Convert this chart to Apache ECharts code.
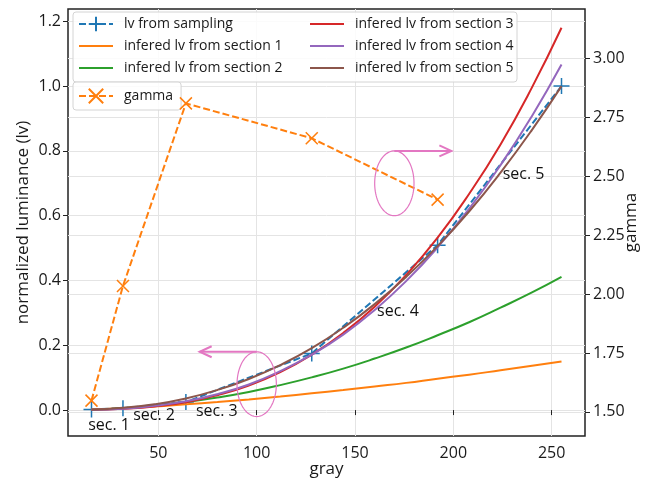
<!DOCTYPE html>
<html><head><meta charset="utf-8">
<script src="https://cdn.jsdelivr.net/npm/echarts@6/dist/echarts.min.js"></script>
<style>html,body{margin:0;padding:0;background:#fff}#c{width:653px;height:481px}</style>
</head><body><div id="c"></div>
<script>
// ---- data ----
const sampleGray = [16, 32, 64, 128, 192, 255];
const sampleLv   = [0.002, 0.006, 0.025, 0.175, 0.509, 1.000];

const curveGray = [16, 32, 48, 64, 80, 96, 112, 128, 144, 160, 176, 192, 208, 224, 240, 255];
const sec1Lv = [0.002, 0.006, 0.011, 0.018, 0.025, 0.033, 0.042, 0.052, 0.062, 0.073, 0.084, 0.097, 0.109, 0.123, 0.137, 0.150];
const sec2Lv = [0.001, 0.006, 0.014, 0.025, 0.039, 0.056, 0.077, 0.101, 0.128, 0.159, 0.193, 0.231, 0.271, 0.316, 0.363, 0.411];
const sec3Lv = [0.001, 0.004, 0.011, 0.024, 0.046, 0.076, 0.117, 0.171, 0.238, 0.319, 0.417, 0.532, 0.667, 0.820, 0.996, 1.180];
const sec4Lv = [0.001, 0.004, 0.013, 0.027, 0.049, 0.079, 0.120, 0.171, 0.233, 0.309, 0.398, 0.502, 0.621, 0.756, 0.908, 1.067];
const sec5Lv = [0.001, 0.007, 0.018, 0.036, 0.062, 0.096, 0.139, 0.191, 0.254, 0.327, 0.411, 0.506, 0.613, 0.733, 0.865, 1.000];

const gammaGray = [16, 32, 64, 128, 192];
const gammaVal  = [1.548, 2.034, 2.808, 2.660, 2.400];

const xTicks     = [50, 100, 150, 200, 250];
const lvTicks    = [0, 0.2, 0.4, 0.6, 0.8, 1.0, 1.2];
const gammaTicks = [1.5, 1.75, 2.0, 2.25, 2.5, 2.75, 3.0];

const secLabels   = ['sec. 1', 'sec. 2', 'sec. 3', 'sec. 4', 'sec. 5'];
const secLabelPos = [[14.3, -0.046], [37.2, -0.015], [69.1, -0.005], [161.2, 0.303], [225.1, 0.727]];
const ellipses = [[170, 0.70, 20, 0.20], [100, 0.08, 20, 0.20]]; // cx, cy, width, height (data units)
const arrows   = [[170, 0.80, 199, 0.80], [100, 0.18, 71, 0.18]]; // x0, y0, x1, y1

// ---- chart ----
const FF = '"Open Sans", sans-serif';
const TXT = '#1a1a1a';
const pair = (xs, ys) => xs.map((x, i) => [x, ys[i]]);
const plusPath = 'path://M0,5L10,5M5,0L5,10';
const crossPath = 'path://M0,0L10,10M10,0L0,10';
const linePath = 'path://M0,0L34,0L34,2L0,2Z';
const PINK = '#e377c2';

const chart = echarts.init(document.getElementById('c'), null, {renderer: 'canvas'});

function curve(name, color, ys) {
  return {
    name, type: 'line', xAxisIndex: 0, yAxisIndex: 0,
    data: pair(curveGray, ys), smooth: true, symbol: 'none',
    lineStyle: {color, width: 2}, itemStyle: {color}, z: 3
  };
}
const li = name => ({name, icon: linePath});

const legendText = {fontSize: 14, lineHeight: 18, color: TXT, fontFamily: FF, padding: [0, 0, 0, 6]};

chart.setOption({
  animation: false,
  grid: {left: 68, right: 68, top: 9, bottom: 45, show: true, borderColor: '#222', borderWidth: 1.5,
         backgroundColor: 'transparent', containLabel: false, outerBoundsMode: 'none'},
  graphic: [{
    type: 'rect', z: 3, shape: {x: 73, y: 12, width: 444, height: 70, r: 3},
    style: {fill: 'rgba(255,255,255,0.85)', stroke: '#d4d4d4', lineWidth: 1}
  }],
  legend: [
    {data: ['lv from sampling', li('infered lv from section 1'), li('infered lv from section 2')],
     left: 78, top: 15, orient: 'vertical', itemWidth: 34, itemHeight: 18, itemGap: 4, padding: 0,
     textStyle: legendText, z: 5},
    {data: [li('infered lv from section 3'), li('infered lv from section 4'), li('infered lv from section 5')],
     left: 310, top: 15, orient: 'vertical', itemWidth: 34, itemHeight: 18, itemGap: 4, padding: 0,
     textStyle: legendText, z: 5},
    {data: ['gamma'], left: 73, top: 82, orient: 'vertical', itemWidth: 34, itemHeight: 18, padding: [5, 8, 5, 5],
     backgroundColor: 'rgba(255,255,255,0.85)', borderColor: '#d4d4d4', borderWidth: 1, borderRadius: 3,
     textStyle: legendText, z: 5}
  ],
  xAxis: [{
    type: 'value', min: 4.05, max: 266.95,
    name: 'gray', nameLocation: 'middle', nameGap: 25, nameMoveOverlap: false,
    nameTextStyle: {fontSize: 17, color: TXT, fontFamily: FF},
    axisLine: {show: false},
    axisTick: {show: true, length: 5, lineStyle: {color: '#222', width: 1}, customValues: xTicks},
    axisLabel: {customValues: xTicks, fontSize: 16, color: TXT, margin: 9, fontFamily: FF},
    splitLine: {show: true, lineStyle: {color: '#e4e4e4', width: 1}}
  }],
  yAxis: [{
    type: 'value', min: -0.08, max: 1.238, position: 'left',
    name: 'normalized luminance (lv)', nameLocation: 'middle', nameGap: 36, nameRotate: 90, nameMoveOverlap: false,
    nameTextStyle: {fontSize: 17, color: TXT, fontFamily: FF},
    axisLine: {show: false},
    axisTick: {show: true, length: 5, lineStyle: {color: '#222', width: 1}, customValues: lvTicks},
    axisLabel: {customValues: lvTicks, fontSize: 16, color: TXT, margin: 7, fontFamily: FF,
                formatter: v => (+v).toFixed(1)},
    splitLine: {show: true, lineStyle: {color: '#e4e4e4', width: 1}}
  }, {
    type: 'value', min: 1.398, max: 3.208, position: 'right',
    name: 'gamma', nameLocation: 'middle', nameGap: 38, nameRotate: 90, nameMoveOverlap: false,
    nameTextStyle: {fontSize: 17, color: TXT, fontFamily: FF},
    axisLine: {show: false},
    axisTick: {show: true, length: 5, lineStyle: {color: '#222', width: 1}, customValues: gammaTicks},
    axisLabel: {customValues: gammaTicks, fontSize: 16, color: TXT, margin: 8, fontFamily: FF,
                formatter: v => (+v).toFixed(2)},
    splitLine: {show: true, lineStyle: {color: '#e4e4e4', width: 1}}
  }],
  series: [
    {name: 'lv from sampling', type: 'line', xAxisIndex: 0, yAxisIndex: 0,
     data: pair(sampleGray, sampleLv), symbol: plusPath, symbolSize: 16,
     lineStyle: {color: '#1f77b4', width: 2, type: [7, 3]},
     itemStyle: {color: '#1f77b4', borderColor: '#1f77b4', borderWidth: 1.5}, z: 2},
    curve('infered lv from section 1', '#ff7f0e', sec1Lv),
    curve('infered lv from section 2', '#2ca02c', sec2Lv),
    curve('infered lv from section 3', '#d62728', sec3Lv),
    curve('infered lv from section 4', '#9467bd', sec4Lv),
    curve('infered lv from section 5', '#8c564b', sec5Lv),
    {name: 'gamma', type: 'line', xAxisIndex: 0, yAxisIndex: 1,
     data: pair(gammaGray, gammaVal), symbol: crossPath, symbolSize: 12,
     lineStyle: {color: '#ff7f0e', width: 2, type: [7, 3]},
     itemStyle: {color: '#ff7f0e', borderColor: '#ff7f0e', borderWidth: 1.5}, z: 6},
    {type: 'custom', coordinateSystem: 'cartesian2d', xAxisIndex: 0, yAxisIndex: 0, z: 7,
     data: ellipses, silent: true,
     renderItem(params, api) {
       const c = api.coord([api.value(0), api.value(1)]);
       const s = api.size([api.value(2), api.value(3)]);
       const rx = s[0] / 2, ry = s[1] / 2, pts = [];
       for (let i = 0; i < 96; i++) {
         const t = i / 96 * Math.PI * 2;
         pts.push([c[0] + rx * Math.cos(t), c[1] + ry * Math.sin(t)]);
       }
       return {type: 'polygon', shape: {points: pts}, style: {fill: 'none', stroke: PINK, lineWidth: 1.2}};
     }},
    {type: 'custom', coordinateSystem: 'cartesian2d', xAxisIndex: 0, yAxisIndex: 0, z: 7,
     data: arrows, silent: true,
     renderItem(params, api) {
       const p0 = api.coord([api.value(0), api.value(1)]);
       const p1 = api.coord([api.value(2), api.value(3)]);
       const dx = p1[0] - p0[0], dy = p1[1] - p0[1], L = Math.hypot(dx, dy);
       const ux = dx / L, uy = dy / L, hl = 12, hw = 5.5;
       const b1 = [p1[0] - ux * hl - uy * hw, p1[1] - uy * hl + ux * hw];
       const b2 = [p1[0] - ux * hl + uy * hw, p1[1] - uy * hl - ux * hw];
       return {type: 'group', children: [
         {type: 'line', shape: {x1: p0[0], y1: p0[1], x2: p1[0], y2: p1[1]}, style: {stroke: PINK, lineWidth: 2}},
         {type: 'polyline', shape: {points: [b1, p1, b2]}, style: {stroke: PINK, lineWidth: 2, fill: 'none'}}
       ]};
     }},
    {type: 'custom', coordinateSystem: 'cartesian2d', xAxisIndex: 0, yAxisIndex: 0, z: 7,
     data: secLabelPos, silent: true,
     renderItem(params, api) {
       const c = api.coord([api.value(0), api.value(1)]);
       return {type: 'text', style: {x: c[0], y: c[1], text: secLabels[params.dataIndex],
         fill: '#111', fontSize: 16, fontFamily: FF, align: 'left', verticalAlign: 'middle'}};
     }}
  ]
});
</script>
</body></html>
